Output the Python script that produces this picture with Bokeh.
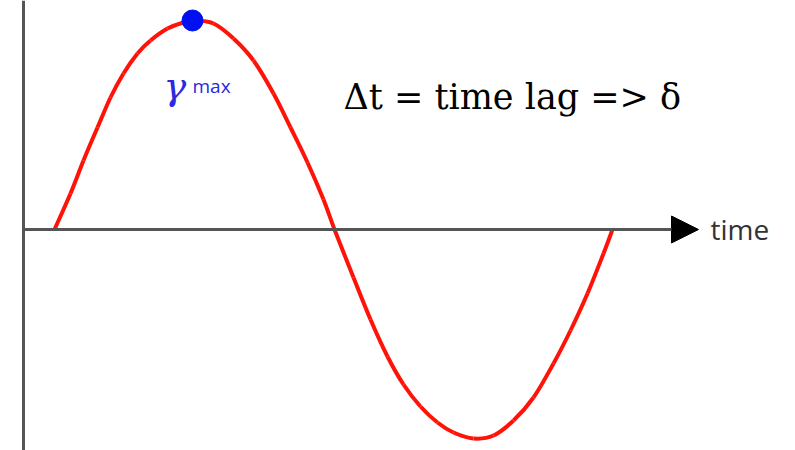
from bokeh.plotting import figure
from bokeh.models import Range1d, Span, Arrow, NormalHead
from bokeh.core.properties import value
from bokeh.embed import file_html
from bokeh.resources import INLINE

# Oscillating strain over one period (time, displacement)
time = [2, 18, 31, 45, 58, 71, 85, 98, 115, 131, 140, 161, 181, 201, 221, 238, 255, 271, 282,
        301, 318, 335, 351, 368, 385, 401, 421, 441, 461, 481, 501, 518, 535, 551, 560]
strain = [0, 36, 69, 102, 132, 156, 176, 189, 201, 207, 209, 206, 191, 169, 136, 102, 67, 30, 0,
          -48, -90, -127, -155, -177, -193, -203, -209, -206, -191, -168, -134, -101, -64, -24, 0]

# Peak of the wave
peak_time = [140]
peak_strain = [209]

# Axis extents
x_axis_start, x_axis_end = -30, 646
y_axis_at = -29

p = figure(width=795, height=450, output_backend="svg", toolbar_location=None,
           x_range=Range1d(-52, 743), y_range=Range1d(-221, 229),
           min_border=0, background_fill_color="white", border_fill_color="white")
p.xaxis.visible = False
p.yaxis.visible = False
p.xgrid.visible = False
p.ygrid.visible = False
p.outline_line_color = None

# Vertical axis
p.add_layout(Span(location=y_axis_at, dimension="height", line_color="#555555", line_width=3))

# Horizontal time axis with arrow head
p.add_layout(Arrow(x_start=x_axis_start, y_start=0, x_end=x_axis_end, y_end=0,
                   line_color="#555555", line_width=3,
                   end=NormalHead(size=27, fill_color="black", line_color="black", line_width=1)))

# Smooth curve through the sampled points (Catmull-Rom segments as cubic Beziers)
n = len(time)
x0, y0, x1, y1, cx0, cy0, cx1, cy1 = [], [], [], [], [], [], [], []
for i in range(n - 1):
    a = max(i - 1, 0)
    b = min(i + 2, n - 1)
    x0.append(time[i]); y0.append(strain[i])
    x1.append(time[i + 1]); y1.append(strain[i + 1])
    cx0.append(time[i] + (time[i + 1] - time[a]) / 6)
    cy0.append(strain[i] + (strain[i + 1] - strain[a]) / 6)
    cx1.append(time[i + 1] - (time[b] - time[i]) / 6)
    cy1.append(strain[i + 1] - (strain[b] - strain[i]) / 6)
p.bezier(x0=x0, y0=y0, x1=x1, y1=y1, cx0=cx0, cy0=cy0, cx1=cx1, cy1=cy1,
         line_color="#ff1208", line_width=4)

# Maximum marker
p.scatter(peak_time, peak_strain, size=21, color="#0010f0")

# Labels
p.text(x=[111], y=[144], text=["γ"], text_font=value("DejaVu Serif"),
       text_font_style="italic", text_font_size="38px", text_color="#2a2ae0",
       text_baseline="alphabetic")
p.text(x=[140], y=[144], text=["max"], text_font=value("Open Sans"),
       text_font_size="19px", text_color="#2a2ae0", text_baseline="alphabetic")
p.text(x=[291], y=[133], text=["Δt = time lag => δ"], text_font=value("DejaVu Serif"),
       text_font_size="35px", text_color="black", text_baseline="alphabetic")
p.text(x=[658], y=[1], text=["time"], text_font=value("Open Sans"),
       text_font_size="28px", text_color="#333333", text_baseline="middle")

open("out.html", "w").write(file_html(p, INLINE))
